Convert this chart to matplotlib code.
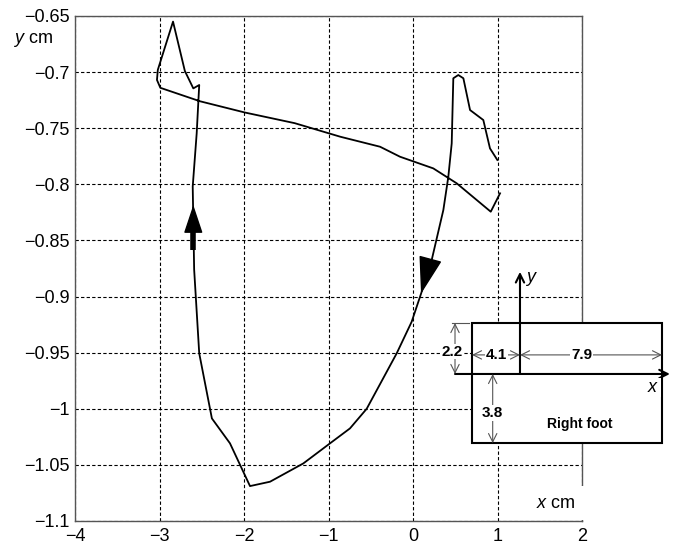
import matplotlib
matplotlib.use('Agg')
from matplotlib import pyplot as plt
from matplotlib.patches import Rectangle

plt.rcParams['font.family'] = ['Liberation Sans', 'DejaVu Sans']
plt.rcParams['mathtext.fontset'] = 'custom'
plt.rcParams['mathtext.it'] = 'Liberation Sans:italic'
plt.rcParams['mathtext.rm'] = 'Liberation Sans'

# CoP trajectory of the right foot (cm)
path_x = [0.998, 0.911, 0.832, 0.675, 0.596, 0.536, 0.477, 0.458, 0.418, 0.359,
          0.221, 0.095, -0.016, -0.193, -0.548, -0.746, -0.982, -1.298, -1.692,
          -1.929, -2.166, -2.38, -2.53, -2.59, -2.607, -2.56, -2.53, -2.60,
          -2.70, -2.84, -3.02, -3.03, -2.99, -2.52, -1.99, -1.4, -0.86, -0.39,
          -0.154, 0.24, 0.517, 0.92, 1.03]
path_y = [-0.7783, -0.768, -0.7427, -0.7338, -0.7055, -0.7026, -0.7055, -0.7635,
          -0.7932, -0.8229, -0.8675, -0.8975, -0.9225, -0.9506, -1.0, -1.0175,
          -1.0308, -1.0487, -1.065, -1.0689, -1.0308, -1.0086, -0.9506, -0.876,
          -0.802, -0.7546, -0.7115, -0.7145, -0.699, -0.655, -0.698, -0.707,
          -0.714, -0.726, -0.736, -0.7455, -0.7576, -0.7665, -0.7754, -0.7858,
          -0.7991, -0.8244, -0.808]

xticks = [-4, -3, -2, -1, 0, 1, 2]
yticks = [-1.1, -1.05, -1, -0.95, -0.9, -0.85, -0.8, -0.75, -0.7, -0.65]
ytick_labels = ['\u22121.1', '\u22121.05', '\u22121', '\u22120.95', '\u22120.9',
                '\u22120.85', '\u22120.8', '\u22120.75', '\u22120.7', '\u22120.65']

# direction arrows (tail, head base, tip)
up_arrow = ((-2.60, -0.8586), (-2.60, -0.841), (-2.60, -0.8184))
down_arrow = ((0.20, -0.868), (0.095, -0.8975))

# foot sketch: box, local axes and dimensions (in plot cm)
box_x0, box_x1 = 0.698, 2.947
box_y0, box_y1 = -1.0306, -0.9236
origin = (1.266, -0.969)
dims = [('2.2', (0.497, box_y1), (0.497, origin[1]), (0.458, -0.949)),
        ('4.1', (box_x0, -0.952), (origin[0], -0.952), (0.99, -0.952)),
        ('7.9', (origin[0], -0.952), (box_x1, -0.952), (1.996, -0.952)),
        ('3.8', (0.943, origin[1]), (0.943, box_y0), (0.94, -1.004))]

fig = plt.figure(figsize=(6.8, 5.44), dpi=100)
ax = fig.add_axes([0.1103, 0.0423, 0.7456, 0.9283])

ax.plot(path_x, path_y, color='black', lw=1.3, zorder=3)

# arrows along the path
ax.plot([up_arrow[0][0], up_arrow[1][0]], [up_arrow[0][1], up_arrow[1][1]],
        color='black', lw=4, solid_capstyle='butt', zorder=4)
ax.annotate('', xy=up_arrow[2], xytext=up_arrow[1],
            arrowprops=dict(arrowstyle='-|>,head_length=1.8,head_width=0.6',
                            mutation_scale=10, color='black', lw=1,
                            shrinkA=0, shrinkB=0), zorder=4)
ax.annotate('', xy=down_arrow[1], xytext=down_arrow[0],
            arrowprops=dict(arrowstyle='-|>,head_length=2.4,head_width=0.75',
                            mutation_scale=10, color='black', lw=1,
                            shrinkA=0, shrinkB=0), zorder=4)

ax.set_xlim(-4, 2)
ax.set_ylim(-1.1, -0.65)
ax.set_xticks(xticks)
ax.set_yticks(yticks)
ax.set_yticklabels(ytick_labels)
ax.tick_params(length=0, labelsize=13)
ax.tick_params(axis='x', pad=5)
ax.tick_params(axis='y', pad=4)
ax.grid(True, color='black', linestyle=(0, (3, 2)), linewidth=0.8)
ax.set_axisbelow(True)
for sp in ax.spines.values():
    sp.set_color('#555555')
    sp.set_linewidth(1.0)

fig.text(13 / 680, 1 - 40 / 544, r'$\mathit{y}$ cm', fontsize=13, va='center', ha='left')
ax.text(1.69, -1.084, r'$\mathit{x}$ cm', fontsize=13, va='center', ha='center',
        bbox=dict(facecolor='white', edgecolor='none', pad=6), zorder=8)

# foot sketch
ax.add_patch(Rectangle((box_x0, box_y0), box_x1 - box_x0, box_y1 - box_y0,
                       facecolor='white', edgecolor='black', lw=1.5,
                       clip_on=False, zorder=5))
ax.annotate('', xy=(3.04, origin[1]), xytext=(0.497, origin[1]),
            arrowprops=dict(arrowstyle='->,head_length=0.5,head_width=0.25',
                            mutation_scale=12, color='black', lw=1.5,
                            shrinkA=0, shrinkB=0), annotation_clip=False, zorder=6)
ax.annotate('', xy=(origin[0], -0.878), xytext=origin,
            arrowprops=dict(arrowstyle='->,head_length=0.5,head_width=0.25',
                            mutation_scale=12, color='black', lw=1.5,
                            shrinkA=0, shrinkB=0), annotation_clip=False, zorder=6)
ax.plot([0.458, 0.66], [box_y1, box_y1], color='#555555', lw=0.8, clip_on=False, zorder=6)
for label, p0, p1, tpos in dims:
    ax.annotate('', xy=p1, xytext=p0,
                arrowprops=dict(arrowstyle='<->,head_length=0.5,head_width=0.25',
                                mutation_scale=12, color='#555555', lw=0.8,
                                shrinkA=0, shrinkB=0), annotation_clip=False, zorder=6)
    ax.text(tpos[0], tpos[1], label, fontsize=11, fontweight='bold', ha='center',
            va='center', bbox=dict(facecolor='white', edgecolor='none', pad=0.5),
            clip_on=False, zorder=7)
ax.text(1.976, -1.0136, 'Right foot', fontsize=10, fontweight='bold', ha='center',
        va='center', zorder=7)
ax.text(2.84, -0.981, r'$\mathit{x}$', fontsize=13, ha='center', va='center',
        bbox=dict(facecolor='white', edgecolor='none', pad=1), clip_on=False, zorder=7)
ax.text(1.40, -0.884, r'$\mathit{y}$', fontsize=13, ha='center', va='center', zorder=7)

fig.savefig('out.png', dpi=100)
